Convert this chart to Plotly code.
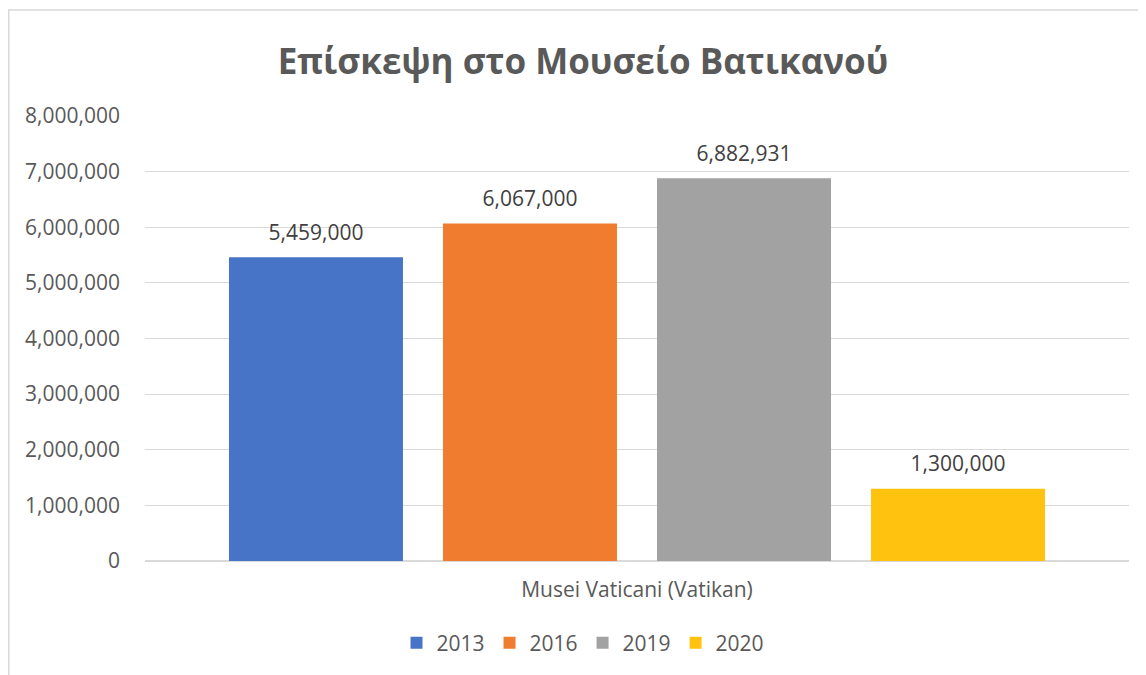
import plotly.graph_objects as go

categories = ["Musei Vaticani (Vatikan)"]
years = ["2013", "2016", "2019", "2020"]
visitors = [5459000, 6067000, 6882931, 1300000]
colors = ["#4774C6", "#F07D2F", "#A2A2A2", "#FFC20E"]
title = "Επίσκεψη στο Μουσείο Βατικανού"

W, H = 1146, 675
OFF = 8  # page body margin offset
L, T = 145 - OFF, 116 - OFF
pw, ph = 1129 - 145, 561 - 116
R, B = W - L - pw, H - T - ph
BARGAP = 0.13

def px_x(px):
    return (px - OFF - L) / pw

def px_y(py):
    return (H - B - (py - OFF)) / ph

fig = go.Figure()
for yr, v, c in zip(years, visitors, colors):
    fig.add_trace(go.Bar(
        x=categories, y=[v], name=yr, offsetgroup=yr,
        marker=dict(color=c, line=dict(width=0)),
        cliponaxis=False,
    ))
for yr, v in zip(years, visitors):
    fig.add_trace(go.Scatter(
        x=categories, y=[v], mode="markers+text", offsetgroup=yr,
        text=[f"{v:,}"], textposition="top center",
        marker=dict(size=18, color="rgba(0,0,0,0)"),
        textfont=dict(size=21, color="#404040"),
        showlegend=False, hoverinfo="skip", cliponaxis=False,
    ))

font_family = "Open Sans, Liberation Sans, sans-serif"
fig.update_layout(
    width=W, height=H,
    margin=dict(l=L, r=R, t=T, b=B),
    paper_bgcolor="white", plot_bgcolor="white",
    barmode="group", bargap=BARGAP, bargroupgap=0.187,
    scattermode="group", scattergap=BARGAP,
    font=dict(family=font_family, color="#595959", size=21),
    title=dict(text=f"<b>{title}</b>", x=(583 - OFF) / W, xref="container",
               y=1 - (62 - OFF) / H, yref="container", xanchor="center", yanchor="middle",
               font=dict(size=35, color="#595959", family=font_family)),
    showlegend=True,
    legend=dict(orientation="h", x=px_x(583), y=px_y(643), xanchor="center", yanchor="middle",
                font=dict(size=21, color="#595959"), itemwidth=30, traceorder="normal"),
    xaxis=dict(showgrid=False, showline=False, ticks="", ticklabelstandoff=14,
               tickfont=dict(size=21, color="#595959")),
    yaxis=dict(range=[0, 8000000], dtick=1000000, tickformat=",", showgrid=True,
               gridcolor="#D9D9D9", gridwidth=1, zeroline=True, zerolinecolor="#D9D9D9",
               showline=False, ticks="", ticklabelstandoff=24,
               tickfont=dict(size=21, color="#595959")),
    shapes=[dict(type="rect", xref="paper", yref="paper",
                 x0=(0.75 - L) / pw, x1=px_x(1170), y0=px_y(700), y1=px_y(10),
                 line=dict(color="#D9D9D9", width=1.5), fillcolor="rgba(0,0,0,0)", layer="below")],
)

fig.write_html("out.html")
